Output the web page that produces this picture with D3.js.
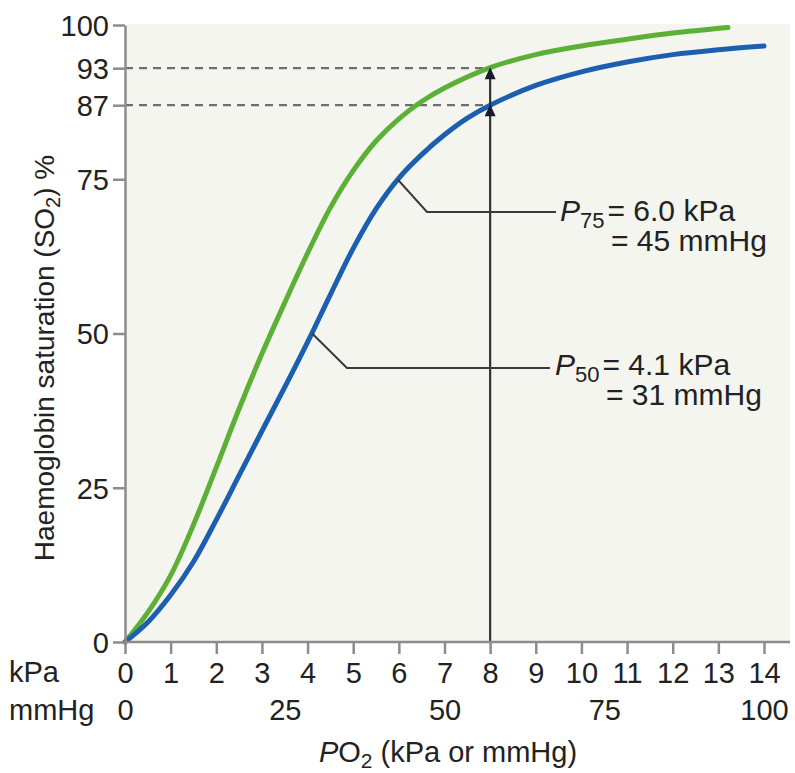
<!DOCTYPE html>
<html>
<head>
  <meta charset="utf-8">
  <title>Haemoglobin dissociation curves</title>
  <style>
    body { margin: 0; background: #fff; }
    svg { display: block; font-family: "Liberation Sans", Arial, sans-serif; }
    .axis text { font-size: 29px; fill: #222; }
    .axis line, .axis path { stroke: #8c8c8c; stroke-width: 2.5px; }
  </style>
</head>
<body>
  <svg width="795" height="773"></svg>
  <script src="https://d3js.org/d3.v7.min.js"></script>
  <script>
    // kPa / % saturation
    var greenKpa = [0, 0.5, 1, 1.5, 2, 2.5, 3, 3.5, 4, 4.5, 5, 5.5, 6, 6.5, 7, 8, 9, 10, 11, 12, 13.21];
    var greenSat = [0, 4.8, 10.8, 19, 28.3, 37.8, 46.7, 55, 63, 70.4, 76.4, 81.2, 84.8, 87.6, 89.8, 93.1, 95.2, 96.6, 97.7, 98.7, 99.6];
    var blueKpa = [0, 0.5, 1, 1.5, 2, 2.5, 3, 3.5, 4, 4.5, 5, 5.5, 6, 6.5, 7, 7.5, 8, 9, 10, 11, 12, 13, 14];
    var blueSat = [0, 3.2, 7.6, 13, 19.8, 27, 34.2, 41.3, 48.6, 56.3, 63.8, 70.2, 75.2, 79.0, 82.2, 84.9, 87.0, 90.2, 92.4, 94.0, 95.2, 96.0, 96.6];

    var satTicks = [0, 25, 50, 75, 87, 93, 100];
    var kpaTicks = d3.range(0, 15);
    var mmhgTicks = [0, 25, 50, 75, 100];

    var svg = d3.select('svg');

    var x = d3.scaleLinear().domain([0, 14]).range([125, 764]);
    var xm = d3.scaleLinear().domain([0, 100]).range([125, 764]);
    var y = d3.scaleLinear().domain([0, 100]).range([642, 25]);

    // panel background
    svg.append('rect')
      .attr('x', 127).attr('y', y(100) - 1)
      .attr('width', 790 - 127).attr('height', y(0) - y(100) + 1)
      .attr('fill', '#f5f5f0');

    // dashed guides at 93 and 87
    [93, 87].forEach(function(v) {
      svg.append('line')
        .attr('x1', x(0)).attr('x2', x(8))
        .attr('y1', y(v)).attr('y2', y(v))
        .attr('stroke', '#6e6e6e').attr('stroke-width', 2.2)
        .attr('stroke-dasharray', '8,6');
    });

    // curves
    var line = d3.line()
      .x(function(d) { return x(d[0]); })
      .y(function(d) { return y(d[1]); })
      .curve(d3.curveCatmullRom);

    var greenData = greenKpa.map(function(k, i) { return [k, greenSat[i]]; });
    var blueData = blueKpa.map(function(k, i) { return [k, blueSat[i]]; });

    svg.append('path').datum(greenData)
      .attr('d', line).attr('fill', 'none')
      .attr('stroke', '#5cb035').attr('stroke-width', 5).attr('stroke-linecap', 'round');
    svg.append('path').datum(blueData)
      .attr('d', line).attr('fill', 'none')
      .attr('stroke', '#1c5fae').attr('stroke-width', 5).attr('stroke-linecap', 'round');

    // vertical line at 8 kPa with arrowheads
    svg.append('line')
      .attr('x1', x(8)).attr('x2', x(8))
      .attr('y1', y(0)).attr('y2', y(93) + 4)
      .attr('stroke', '#333').attr('stroke-width', 2.2);
    [93, 87].forEach(function(v) {
      var tx = x(8), ty = y(v) - 1;
      svg.append('path')
        .attr('d', 'M' + tx + ',' + ty + 'L' + (tx - 5.5) + ',' + (ty + 12) + 'L' + (tx + 5.5) + ',' + (ty + 12) + 'Z')
        .attr('fill', '#1a1a2a');
    });

    // leader lines for P75 and P50
    var leaders = [
      { k: 5.97, s: 75, ex: 427, ey: 212, hx: 556 },
      { k: 4.10, s: 50, ex: 347, ey: 368, hx: 550 }
    ];
    leaders.forEach(function(l) {
      svg.append('polyline')
        .attr('points', [[x(l.k), y(l.s)], [l.ex, l.ey], [l.hx, l.ey]].join(' '))
        .attr('fill', 'none').attr('stroke', '#3a3a3a').attr('stroke-width', 2);
    });

    // annotation labels
    function annot(px, py, sub, line1, line2, ex) {
      var t = svg.append('text').attr('x', px).attr('y', py)
        .attr('font-size', 30).attr('fill', '#222');
      t.append('tspan').attr('font-style', 'italic').text('P');
      t.append('tspan').attr('font-size', 22).attr('dy', 7).text(sub);
      t.append('tspan').attr('dy', -7).attr('dx', 3).text(line1);
      svg.append('text').attr('x', ex).attr('y', py + 30)
        .attr('font-size', 30).attr('fill', '#222').text(line2);
    }
    annot(560, 221, '75', '= 6.0 kPa', '= 45 mmHg', 611);
    annot(555, 375, '50', '= 4.1 kPa', '= 31 mmHg', 606);

    // y axis
    var yAxis = svg.append('g').attr('class', 'axis')
      .attr('transform', 'translate(' + x(0) + ',0)')
      .call(d3.axisLeft(y).tickValues(satTicks).tickSize(12).tickSizeOuter(0).tickPadding(4));
    yAxis.selectAll('text').attr('dy', '0.36em');

    // x axis kPa
    var xAxis = svg.append('g').attr('class', 'axis')
      .attr('transform', 'translate(0,' + y(0) + ')')
      .call(d3.axisBottom(x).tickValues(kpaTicks).tickSize(12).tickSizeOuter(0).tickPadding(8));
    xAxis.select('.domain').remove();
    xAxis.append('line')
      .attr('x1', x(0) - 1).attr('x2', 790).attr('y1', 0).attr('y2', 0);

    // x axis mmHg
    var mAxis = svg.append('g').attr('class', 'axis')
      .attr('transform', 'translate(0,' + y(0) + ')')
      .call(d3.axisBottom(xm).tickValues(mmhgTicks).tickSize(0).tickPadding(57));
    mAxis.select('.domain').remove();

    svg.append('text').attr('x', 9).attr('y', 682)
      .attr('font-size', 29).attr('fill', '#222').text('kPa');
    svg.append('text').attr('x', 9).attr('y', 720)
      .attr('font-size', 29).attr('fill', '#222').text('mmHg');

    // x title
    var xt = svg.append('text').attr('x', 448).attr('y', 762)
      .attr('text-anchor', 'middle').attr('font-size', 29).attr('fill', '#222');
    xt.append('tspan').attr('font-style', 'italic').text('P');
    xt.append('tspan').text('O');
    xt.append('tspan').attr('font-size', 21).attr('dy', 6).text('2');
    xt.append('tspan').attr('dy', -6).text(' (kPa or mmHg)');

    // y title
    var yt = svg.append('text')
      .attr('transform', 'translate(54,358) rotate(-90)')
      .attr('text-anchor', 'middle').attr('font-size', 28).attr('fill', '#222');
    yt.append('tspan').text('Haemoglobin saturation (SO');
    yt.append('tspan').attr('font-size', 20).attr('dy', 6).text('2');
    yt.append('tspan').attr('dy', -6).text(') %');
  </script>
</body>
</html>
